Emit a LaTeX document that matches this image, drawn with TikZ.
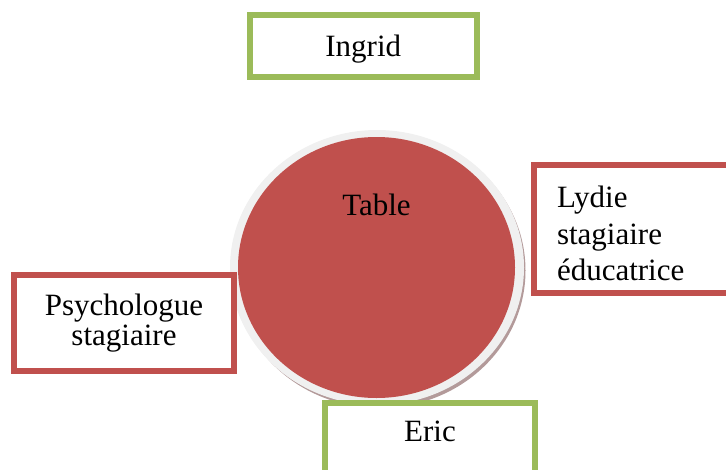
\documentclass[tikz,border=0pt]{standalone}
\usepackage{fontspec}
\setmainfont{Liberation Serif}
\newfontfamily\tnr{Liberation Serif}
\usetikzlibrary{shapes.geometric}
\definecolor{tred}{HTML}{C0504D}
\definecolor{tgreen}{HTML}{9BBB59}
\definecolor{ringc}{HTML}{F0F0F0}
\definecolor{shadowc}{HTML}{B39A9A}
\begin{document}
\begin{tikzpicture}[x=1pt,y=-1pt,
  box/.style={draw, line width=6pt, fill=white, inner sep=0pt, font=\tnr\fontsize{31}{36}\selectfont},
  redbox/.style={box, draw=tred},
  greenbox/.style={box, draw=tgreen}]
\useasboundingbox (0,0) rectangle (726,469);
% table
\fill[shadowc] (379.5,270.5) ellipse [x radius=146, y radius=137.5];
\fill[ringc] (377,267.5) ellipse [x radius=147, y radius=137.5];
\node[ellipse, fill=tred, minimum width=277pt, minimum height=261pt, inner sep=0pt,
      font=\tnr\fontsize{31}{36}\selectfont] (table) at (376.5,267.5)
      {\raisebox{52pt}[0pt][0pt]{Table}};
% boxes
\node[greenbox, minimum width=226.5pt, minimum height=61.5pt] (ingrid) at (363.25,45.75)
      {\raisebox{-11pt}[0pt][0pt]{Ingrid}};
\node[redbox, minimum width=220pt, minimum height=96pt, align=center,
      font=\tnr\fontsize{31}{30}\selectfont] (psy) at (124,323)
      {Psychologue\\stagiaire};
\node[redbox, minimum width=206pt, minimum height=128pt, align=left, text width=160pt,
      inner xsep=22pt, font=\tnr\fontsize{31}{36.5}\selectfont] (lydie) at (637,229)
      {\rule{0pt}{8pt}\\[-14pt]Lydie\\stagiaire\\éducatrice};
\node[greenbox, minimum width=210pt, minimum height=77pt] (eric) at (430,441.5)
      {\raisebox{0pt}[0pt][0pt]{Eric}};
\end{tikzpicture}
\end{document}
